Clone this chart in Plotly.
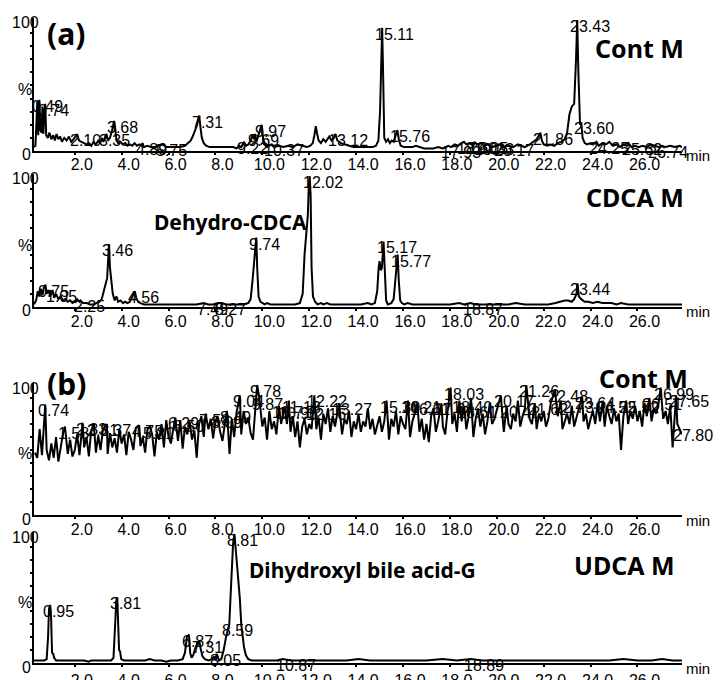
import plotly.graph_objects as go

# ---------------- chromatogram data: retention time (min) / relative intensity (%) ----------------
# (a) Cont M
cont_a_min = [
    0.26, 0.32, 0.36, 0.40, 0.44, 0.49, 0.53, 0.58, 0.62, 0.66, 0.70, 0.74, 0.78, 0.85, 0.92,
    1.00, 1.08, 1.15, 1.22, 1.30, 1.38, 1.45, 1.55, 1.65, 1.75, 1.85, 1.95,
    2.05, 2.10, 2.18, 2.28, 2.40, 2.50, 2.60, 2.70, 2.80, 2.90,
    3.00, 3.08, 3.15, 3.22, 3.30, 3.35, 3.42, 3.50, 3.58, 3.64, 3.68, 3.72, 3.78, 3.85, 3.95,
    4.05, 4.15, 4.25, 4.35, 4.45, 4.55, 4.65, 4.75, 4.85, 4.89, 4.95,
    5.10, 5.25, 5.40, 5.55, 5.75, 5.90, 6.10, 6.30, 6.50, 6.70, 6.85, 6.95,
    7.05, 7.15, 7.22, 7.28, 7.31, 7.36, 7.42, 7.50, 7.60, 7.75,
    8.00, 8.25, 8.50, 8.75, 8.90, 9.00, 9.10, 9.22, 9.30, 9.40, 9.50, 9.58, 9.64, 9.69, 9.75, 9.82, 9.90, 9.97,
    10.03, 10.10, 10.20, 10.37, 10.50, 10.70, 10.90, 11.10, 11.30, 11.50, 11.70, 11.90,
    12.05, 12.15, 12.22, 12.28, 12.34, 12.40, 12.50, 12.60, 12.70, 12.85, 12.95,
    13.05, 13.12, 13.20, 13.35, 13.50, 13.70, 13.90,
    14.10, 14.30, 14.50, 14.70, 14.85, 14.95, 15.02, 15.07, 15.11, 15.15, 15.20, 15.28, 15.36, 15.44, 15.52, 15.60, 15.68, 15.76, 15.82, 15.90,
    16.05, 16.20, 16.40, 16.55, 16.70, 16.90, 17.10, 17.30, 17.50, 17.70, 17.93,
    18.05, 18.20, 18.35, 18.50, 18.60, 18.70, 18.85, 19.00, 19.05, 19.15, 19.33, 19.45, 19.60, 19.80,
    20.00, 20.17, 20.30, 20.50, 20.70, 20.90, 21.05, 21.20, 21.40, 21.55, 21.70, 21.80, 21.86, 21.92,
    22.00, 22.15, 22.30, 22.45, 22.60, 22.75, 22.90, 23.00, 23.10, 23.20, 23.30, 23.38, 23.43, 23.48, 23.55, 23.60, 23.66, 23.75, 23.85,
    24.00, 24.10, 24.25, 24.35, 24.50, 24.65, 24.80, 24.95, 25.10, 25.25, 25.40, 25.55, 25.62, 25.75, 25.90,
    26.05, 26.20, 26.40, 26.55, 26.74, 26.90, 27.05, 27.20, 27.40, 27.60, 27.80, 27.90,
]
cont_a_pct = [
    3, 4, 20, 38, 12, 39, 16, 14, 34, 13, 30, 36, 12, 10, 14,
    9, 12, 8, 13, 9, 11, 7, 10, 8, 11, 7, 9,
    12, 13, 8, 7, 6, 5, 6, 4, 7, 5,
    8, 6, 10, 7, 11, 13, 8, 10, 15, 22, 23, 18, 8, 6, 7,
    5, 6, 4, 5, 4, 6, 4, 5, 4, 6, 3,
    4, 3, 3, 4, 5, 3, 3, 3, 3, 4, 6, 8,
    12, 16, 20, 26, 27, 18, 10, 6, 4, 3,
    3, 3, 3, 3, 2, 4, 3, 7, 4, 5, 8, 12, 9, 13, 7, 11, 16, 20,
    10, 5, 3, 5, 3, 4, 3, 4, 3, 5, 4, 3,
    4, 6, 12, 19, 13, 8, 6, 9, 7, 11, 8,
    10, 13, 8, 6, 5, 4, 3,
    3, 3, 3, 3, 4, 8, 30, 80, 94, 60, 10, 7, 9, 6, 8, 7, 12, 16, 9, 4,
    3, 3, 3, 4, 3, 2, 2, 2, 3, 2, 4,
    3, 5, 4, 6, 7, 5, 6, 4, 7, 5, 6, 4, 5, 3,
    4, 5, 3, 4, 3, 5, 4, 3, 5, 7, 9, 12, 14, 8,
    5, 4, 5, 4, 6, 7, 9, 14, 28, 34, 36, 70, 100, 60, 20, 22, 10, 6, 5,
    6, 5, 7, 4, 6, 5, 7, 4, 5, 3, 5, 4, 6, 3, 4,
    3, 4, 3, 5, 4, 3, 4, 3, 4, 3, 4, 3,
]
cont_a_peaks = ["0.49", "0.74", "2.10", "3.35", "3.68", "4.89", "5.75", "7.31", "9.22", "9.69",
                "9.97", "10.37", "13.12", "15.11", "15.76", "17.93", "18.60", "19.05", "19.33",
                "20.17", "21.86", "23.43", "23.60", "24.25", "25.62", "26.74"]

# (a) CDCA M
cdca_min = [
    0.26, 0.35, 0.42, 0.48, 0.55, 0.62, 0.68, 0.75, 0.80, 0.88, 0.95,
    1.05, 1.12, 1.20, 1.30, 1.40, 1.50, 1.60, 1.70, 1.80, 1.90,
    2.00, 2.10, 2.20, 2.25, 2.35, 2.50, 2.65, 2.80, 2.95,
    3.05, 3.15, 3.25, 3.32, 3.38, 3.42, 3.46, 3.50, 3.56, 3.62, 3.70, 3.78, 3.85, 3.95,
    4.05, 4.15, 4.25, 4.35, 4.45, 4.56, 4.62, 4.70, 4.80, 4.95,
    5.20, 5.50, 5.80, 6.10, 6.40, 6.70, 7.00, 7.20, 7.49, 7.70, 7.90,
    8.10, 8.27, 8.45, 8.70, 8.95, 9.20, 9.40, 9.50, 9.58, 9.64, 9.70, 9.74, 9.78, 9.84, 9.92,
    10.00, 10.10, 10.20, 10.35, 10.50, 10.80, 11.10, 11.40, 11.60, 11.72, 11.80, 11.88, 11.94, 11.98,
    12.02, 12.06, 12.10, 12.16, 12.25, 12.35, 12.50, 12.60, 12.75, 12.90,
    13.10, 13.30, 13.60, 13.90, 14.20, 14.50, 14.65, 14.80, 14.90, 14.96,
    15.00, 15.05, 15.10, 15.17, 15.22, 15.28, 15.35, 15.50, 15.60, 15.70, 15.77, 15.82, 15.88, 15.95,
    16.05, 16.20, 16.40, 16.80, 17.20, 17.60, 18.00, 18.40, 18.60, 18.87,
    19.10, 19.50, 20.00, 20.50, 20.80, 21.20, 21.70, 22.20, 22.50, 22.70, 22.90,
    23.05, 23.20, 23.30, 23.40, 23.44, 23.50, 23.60, 23.75, 23.90,
    24.10, 24.30, 24.50, 24.70, 24.90, 25.10, 25.30, 25.60, 26.00, 26.40, 26.80, 27.20, 27.60, 27.90,
]
cdca_pct = [
    2, 5, 12, 8, 14, 9, 15, 17, 10, 13, 8,
    13, 7, 10, 6, 8, 5, 6, 4, 5, 3,
    4, 6, 4, 5, 3, 3, 2, 2, 3,
    4, 6, 12, 18, 22, 35, 48, 30, 20, 10, 5, 8, 4, 5,
    3, 4, 3, 4, 8, 12, 7, 4, 3, 2,
    2, 2, 2, 2, 2, 2, 2, 2, 3, 2, 2,
    3, 3, 2, 2, 2, 2, 3, 6, 20, 35, 42, 53, 30, 8, 4,
    3, 2, 3, 2, 2, 2, 2, 2, 3, 10, 40, 62, 70, 92,
    100, 85, 30, 8, 4, 2, 3, 2, 3, 2,
    2, 2, 2, 2, 2, 3, 2, 3, 12, 30,
    35, 28, 30, 50, 25, 5, 2, 3, 6, 25, 40, 20, 5, 3,
    2, 3, 2, 2, 2, 2, 2, 3, 2, 3,
    2, 2, 2, 2, 3, 2, 2, 2, 3, 4, 5,
    5, 4, 6, 10, 18, 8, 6, 4, 4,
    3, 4, 3, 3, 3, 2, 3, 2, 2, 2, 2, 2, 2, 2,
]
cdca_peaks = ["0.75", "1.05", "2.25", "3.46", "4.56", "7.49", "8.27", "9.74", "12.02",
              "15.17", "15.77", "18.87", "23.44"]

# (b) Cont M
cont_b_min = [
    0.3, 0.4, 0.5, 0.6, 0.74, 0.8, 0.9,
    1.0, 1.1, 1.2, 1.3, 1.4, 1.5, 1.58, 1.7, 1.8, 1.9,
    2.0, 2.1, 2.2, 2.33, 2.4, 2.5, 2.6, 2.7, 2.81, 2.9,
    3.0, 3.1, 3.2, 3.37, 3.4, 3.5, 3.6, 3.7, 3.8, 3.9,
    4.0, 4.1, 4.2, 4.3, 4.4, 4.5, 4.6, 4.75, 4.8, 4.9,
    5.0, 5.1, 5.21, 5.3, 5.4, 5.5, 5.6, 5.7, 5.8, 5.9,
    6.0, 6.1, 6.2, 6.29, 6.4, 6.50, 6.6, 6.7, 6.8, 6.9,
    7.0, 7.1, 7.2, 7.3, 7.4, 7.5, 7.58, 7.7, 7.8, 7.9,
    8.0, 8.09, 8.2, 8.3, 8.4, 8.49, 8.6, 8.7, 8.8, 8.9,
    9.04, 9.1, 9.2, 9.3, 9.4, 9.5, 9.6, 9.7, 9.78, 9.87,
    10.0, 10.1, 10.2, 10.3, 10.4, 10.5, 10.6, 10.71, 10.8, 10.95,
    11.05, 11.13, 11.2, 11.3, 11.4, 11.5, 11.6, 11.7, 11.8, 11.9,
    12.0, 12.1, 12.16, 12.22, 12.3, 12.4, 12.5, 12.6, 12.7, 12.8, 12.9,
    13.0, 13.1, 13.27, 13.4, 13.5, 13.6, 13.7, 13.8, 13.9,
    14.0, 14.1, 14.2, 14.3, 14.4, 14.5, 14.6, 14.7, 14.8, 14.9,
    15.0, 15.1, 15.2, 15.30, 15.4, 15.5, 15.6, 15.7, 15.8, 15.9,
    16.0, 16.1, 16.21, 16.3, 16.4, 16.5, 16.61, 16.7, 16.8, 16.9,
    17.0, 17.1, 17.2, 17.3, 17.4, 17.5, 17.64, 17.7, 17.8, 17.9,
    18.03, 18.1, 18.2, 18.3, 18.40, 18.5, 18.61, 18.7, 18.8, 18.9,
    19.0, 19.1, 19.2, 19.3, 19.4, 19.5, 19.6, 19.7, 19.8, 19.9,
    20.0, 20.17, 20.3, 20.42, 20.5, 20.6, 20.7, 20.8, 20.9,
    21.0, 21.1, 21.2, 21.26, 21.4, 21.5, 21.62, 21.7, 21.8, 21.9,
    22.0, 22.1, 22.2, 22.3, 22.48, 22.6, 22.73, 22.8, 22.9,
    23.0, 23.1, 23.2, 23.3, 23.4, 23.5, 23.64, 23.7, 23.8, 23.9,
    24.0, 24.1, 24.2, 24.3, 24.4, 24.52, 24.6, 24.7, 24.8, 24.9,
    25.0, 25.1, 25.2, 25.3, 25.4, 25.52, 25.6, 25.7, 25.8, 25.9,
    26.0, 26.1, 26.2, 26.3, 26.4, 26.51, 26.6, 26.7, 26.8, 26.9,
    26.99, 27.1, 27.2, 27.3, 27.4, 27.5, 27.65, 27.7, 27.80, 27.9,
]
cont_b_pct = [
    48, 44, 66, 46, 85, 50, 42,
    55, 44, 60, 41, 52, 63, 68, 47, 58, 45,
    50, 62, 46, 71, 52, 60, 45, 65, 70, 48,
    61, 50, 66, 70, 47, 63, 52, 59, 48, 66,
    55, 62, 46, 64, 58, 50, 67, 69, 53, 60,
    48, 66, 68, 62, 45, 64, 58, 70, 52, 73,
    60, 55, 66, 75, 57, 73, 51, 68, 62, 72,
    58, 65, 44, 70, 76, 60, 78, 66, 74, 59,
    72, 76, 64, 57, 70, 80, 47, 74, 60, 79,
    92, 62, 80, 70, 75, 63, 58, 86, 100, 90,
    68, 75, 58, 80, 66, 72, 62, 84, 70, 83,
    70, 88, 64, 76, 60, 72, 52, 68, 74, 62,
    70, 66, 82, 92, 66, 75, 58, 78, 70, 82, 64,
    76, 68, 86, 62, 74, 70, 80, 60, 72,
    66, 78, 64, 72, 68, 82, 66, 74, 62, 70,
    76, 64, 72, 88, 58, 74, 68, 80, 62, 76,
    70, 66, 88, 60, 72, 78, 86, 64, 74, 58,
    70, 56, 76, 82, 64, 72, 86, 68, 62, 80,
    98, 70, 78, 64, 88, 72, 84, 66, 76, 90,
    60, 74, 82, 68, 78, 62, 72, 86, 70, 74,
    80, 92, 64, 84, 70, 66, 78, 72, 88,
    68, 76, 82, 100, 74, 70, 86, 66, 78, 72,
    80, 68, 74, 86, 96, 76, 88, 66, 72,
    78, 70, 84, 68, 74, 82, 91, 72, 78, 66,
    74, 80, 70, 86, 72, 88, 68, 84, 76, 70,
    82, 72, 78, 50, 76, 88, 70, 80, 74, 84,
    72, 80, 68, 86, 76, 90, 72, 82, 78, 86,
    98, 74, 80, 70, 84, 52, 92, 70, 66, 62,
]
cont_b_peaks = ["0.74", "1.58", "2.33", "2.81", "3.37", "4.75", "5.21", "6.29", "6.50", "7.58",
                "8.09", "8.49", "9.04", "9.78", "9.87", "10.71", "10.95", "11.13", "12.16",
                "12.22", "13.27", "15.30", "16.21", "16.61", "17.64", "18.03", "18.40", "18.61",
                "20.17", "20.42", "21.26", "21.62", "22.48", "22.73", "23.64", "24.52", "25.52",
                "26.51", "26.99", "27.65", "27.80"]

# (b) UDCA M
udca_min = [
    0.26, 0.50, 0.70, 0.80, 0.86, 0.90, 0.95, 0.99, 1.03, 1.08, 1.12, 1.20, 1.50, 1.80,
    2.10, 2.40, 2.60, 2.70, 3.00, 3.30, 3.55, 3.65, 3.72, 3.77, 3.81, 3.85, 3.89, 3.93, 3.98,
    4.10, 4.40, 4.70, 5.00, 5.20, 5.40, 5.70, 5.90, 6.10, 6.40, 6.60, 6.70, 6.78, 6.84, 6.87, 6.92, 6.98,
    7.05, 7.15, 7.25, 7.31, 7.38, 7.45, 7.55, 7.70, 7.85, 7.95, 8.00, 8.05, 8.10, 8.15, 8.25, 8.35,
    8.45, 8.52, 8.59, 8.64, 8.70, 8.75, 8.81, 8.86, 8.92, 8.98,
    9.04, 9.10, 9.16, 9.22, 9.30, 9.40, 9.55, 9.80, 10.20, 10.60, 10.87, 11.20, 11.80,
    12.40, 13.00, 13.60, 14.10, 14.60, 15.20, 15.80, 16.40, 17.00, 17.70, 18.30, 18.89, 19.40,
    20.00, 20.60, 21.20, 21.80, 22.40, 23.00, 23.60, 24.20, 24.80, 25.40, 26.00, 26.60, 27.05, 27.50, 27.90,
]
udca_pct = [
    2, 2, 2, 3, 20, 42, 45, 35, 8, 7, 4, 2, 2, 2,
    2, 2, 1, 2, 2, 2, 2, 4, 30, 48, 51, 30, 10, 9, 3,
    2, 2, 2, 2, 3, 2, 2, 1, 2, 2, 3, 8, 20, 22, 22, 8, 4,
    6, 12, 16, 17, 10, 5, 3, 2, 3, 5, 2, 7, 5, 2, 3, 10,
    20, 26, 30, 50, 80, 92, 100, 90, 72, 60,
    50, 30, 22, 12, 6, 3, 2, 2, 2, 2, 3, 2, 2,
    2, 2, 2, 3, 2, 2, 2, 2, 2, 3, 2, 3, 2,
    2, 2, 2, 2, 2, 2, 2, 2, 2, 3, 2, 2, 3, 2, 2,
]
udca_peaks = ["0.95", "3.81", "6.87", "7.31", "8.05", "8.59", "8.81", "10.87", "18.89"]

for _t, _p in [(cont_a_min, cont_a_pct), (cdca_min, cdca_pct),
               (cont_b_min, cont_b_pct), (udca_min, udca_pct)]:
    assert len(_t) == len(_p), (len(_t), len(_p))

# ---------------- page geometry (pixels) ----------------
W, H = 722, 680
AX_LEFT, AX_RIGHT = 34, 682
TIME_RANGE = [0.26, 27.9]
Y_TOP = 101.5
TICK_MIN = [2, 4, 6, 8, 10, 12, 14, 16, 18, 20, 22, 24, 26]

ARIAL = "Liberation Sans"
BOLD = "Noto Sans"

panels = [
    dict(t=cont_a_min, p=cont_a_pct, peaks=cont_a_peaks, zero=151, full=20, standoff=-4,
         tag=("(a)", 45, 33), title=("Cont M", 593, 48), note=None),
    dict(t=cdca_min, p=cdca_pct, peaks=cdca_peaks, zero=307, full=176, standoff=-3,
         tag=None, title=("CDCA M", 584, 197), note=("Dehydro-CDCA", 152, 222)),
    dict(t=cont_b_min, p=cont_b_pct, peaks=cont_b_peaks, zero=515, full=385, standoff=-3,
         tag=("(b)", 45, 383), title=("Cont M", 597, 378), note=None),
    dict(t=udca_min, p=udca_pct, peaks=udca_peaks, zero=663, full=534, standoff=0,
         tag=None, title=("UDCA M", 572, 565), note=("Dihydroxyl bile acid-G", 247, 570)),
]


def px_x(px):
    return px / W


def px_y(py):
    return 1 - py / H


def height_at(times, pct, t):
    i = min(range(len(times)), key=lambda j: abs(times[j] - t))
    assert abs(times[i] - t) < 1e-6, t
    return pct[i]


fig = go.Figure()
annotations = []
layout_axes = {}

for k, pn in enumerate(panels, start=1):
    xname = "x" if k == 1 else f"x{k}"
    yname = "y" if k == 1 else f"y{k}"
    xkey = "xaxis" if k == 1 else f"xaxis{k}"
    ykey = "yaxis" if k == 1 else f"yaxis{k}"
    scale = (pn["zero"] - pn["full"]) / 100.0

    fig.add_trace(go.Scatter(
        x=pn["t"], y=pn["p"], mode="lines", xaxis=xname, yaxis=yname,
        line=dict(color="black", width=2), hoverinfo="skip", showlegend=False,
    ))

    layout_axes[xkey] = dict(
        domain=[px_x(AX_LEFT), px_x(AX_RIGHT)], range=TIME_RANGE, anchor=yname,
        showline=True, linecolor="black", linewidth=2, showgrid=False, zeroline=False,
        tickmode="array", tickvals=TICK_MIN, ticktext=[f"{v:.1f}" for v in TICK_MIN],
        ticks="outside", ticklen=2, tickwidth=1.5, tickcolor="black",
        tickfont=dict(family=ARIAL, size=16, color="black"), ticklabelshift=7,
        ticklabelstandoff=pn["standoff"], automargin=False,
    )
    layout_axes[ykey] = dict(
        domain=[px_y(pn["zero"]), px_y(pn["zero"] - Y_TOP * scale)], range=[0, Y_TOP],
        anchor=xname, showline=True, linecolor="black", linewidth=2, showgrid=False,
        zeroline=False, showticklabels=False, tickmode="array",
        tickvals=list(range(10, 100, 10)), ticks="outside", ticklen=2, tickwidth=1.5,
        tickcolor="black", automargin=False,
    )

    # y-axis scale labels
    for txt, xa, x, y in [("100", "right", 41, pn["full"] + 3),
                          ("%", "right", 34, pn["zero"] - 47 * scale),
                          ("0", "center", 27, pn["zero"] + 4)]:
        annotations.append(dict(text=txt, xref="paper", yref="paper", x=px_x(x), y=px_y(y),
                                xanchor=xa, yanchor="middle", showarrow=False,
                                font=dict(family=ARIAL, size=16, color="black")))
    # time unit
    annotations.append(dict(text="min", xref="paper", yref="paper", x=px_x(698),
                            y=px_y(pn["zero"] + 5), xanchor="center", yanchor="middle",
                            showarrow=False, font=dict(family=ARIAL, size=15, color="black")))

    # peak retention-time labels
    for lab in pn["peaks"]:
        t = float(lab)
        annotations.append(dict(text=lab, xref=xname, yref=yname, x=t,
                                y=height_at(pn["t"], pn["p"], t),
                                xanchor="left", yanchor="top", xshift=-9, yshift=4,
                                showarrow=False,
                                font=dict(family=ARIAL, size=16, color="black")))

    # bold captions
    if pn["tag"]:
        txt, x, y = pn["tag"]
        annotations.append(dict(text=f"<b>{txt}</b>", xref="paper", yref="paper",
                                x=px_x(x), y=px_y(y), xanchor="left", yanchor="middle",
                                showarrow=False,
                                font=dict(family=BOLD, size=30, color="black")))
    txt, x, y = pn["title"]
    annotations.append(dict(text=f"<b>{txt}</b>", xref="paper", yref="paper",
                            x=px_x(x), y=px_y(y), xanchor="left", yanchor="middle",
                            showarrow=False,
                            font=dict(family=BOLD, size=25, color="black")))
    if pn["note"]:
        txt, x, y = pn["note"]
        annotations.append(dict(text=f"<b>{txt}</b>", xref="paper", yref="paper",
                                x=px_x(x), y=px_y(y), xanchor="left", yanchor="middle",
                                showarrow=False,
                                font=dict(family=BOLD, size=21, color="black")))

fig.update_layout(
    width=W, height=H, margin=dict(l=0, r=0, t=0, b=0, autoexpand=False),
    paper_bgcolor="white", plot_bgcolor="white", showlegend=False,
    annotations=annotations, **layout_axes,
)

fig.write_html("out.html")
